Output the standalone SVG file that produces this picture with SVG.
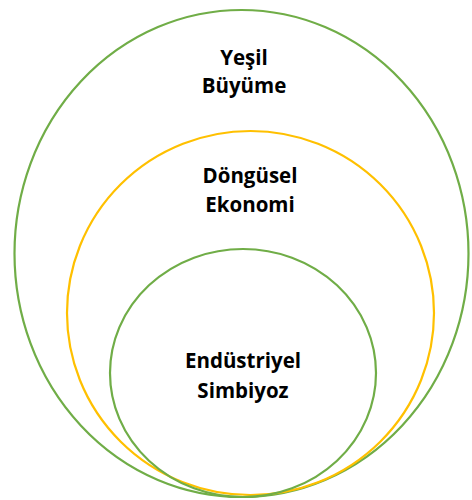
<svg xmlns="http://www.w3.org/2000/svg" width="472" height="500" viewBox="0 0 472 500">
<style>
.c{fill:none;stroke-width:2.2}
.g{stroke:#70ad47}
.y{stroke:#ffc000}
text{font-family:"Open Sans","Liberation Sans",sans-serif;font-weight:bold;font-size:20.5px;fill:#000;text-anchor:middle}
</style>
<rect width="472" height="500" fill="#fff"/>
<g id="yesil-buyume">
<ellipse class="c g" cx="241.5" cy="253.5" rx="227" ry="243.5"/>
<text x="244" y="65">Yeşil</text>
<text x="244" y="93">Büyüme</text>
</g>
<g id="dongusel-ekonomi">
<ellipse class="c y" cx="250.5" cy="313" rx="183.5" ry="182"/>
<text x="250" y="183">Döngüsel</text>
<text x="250" y="212">Ekonomi</text>
</g>
<g id="endustriyel-simbiyoz">
<ellipse class="c g" cx="243" cy="373" rx="133" ry="124"/>
<text x="243" y="368">Endüstriyel</text>
<text x="243" y="398">Simbiyoz</text>
</g>
<g id="connectors"></g>
</svg>
